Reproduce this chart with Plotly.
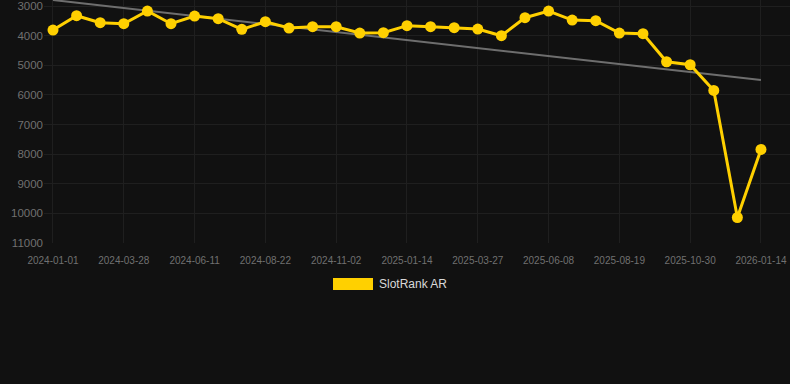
import plotly.graph_objects as go

dates = [
    "2024-01-01", "2024-01-30", "2024-02-28", "2024-03-28", "2024-04-22", "2024-05-17",
    "2024-06-11", "2024-07-05", "2024-07-29", "2024-08-22", "2024-09-15", "2024-10-09",
    "2024-11-02", "2024-11-26", "2024-12-20", "2025-01-14", "2025-02-07", "2025-03-03",
    "2025-03-27", "2025-04-20", "2025-05-15", "2025-06-08", "2025-07-02", "2025-07-26",
    "2025-08-19", "2025-09-12", "2025-10-06", "2025-10-30", "2025-11-24", "2025-12-19",
    "2026-01-14",
]
rank = [
    3811, 3327, 3563, 3597, 3169, 3597, 3338, 3428, 3787, 3530, 3743, 3698,
    3698, 3912, 3900, 3664, 3698, 3732, 3777, 4003, 3394, 3169, 3473, 3495,
    3912, 3935, 4882, 4983, 5848, 10139, 7841,
]
trend_dates = [dates[0], dates[-1]]
trend_values = [2797, 5500]
tick_dates = dates[::3]
y_ticks = [3000, 4000, 5000, 6000, 7000, 8000, 9000, 10000, 11000]
series_name = "SlotRank AR"

BG = "#111111"
YELLOW = "#FFD000"
GRID = "#1f1f1f"
TICK = "#707070"

fig = go.Figure()
fig.add_trace(go.Scatter(
    x=trend_dates, y=trend_values, mode="lines",
    line=dict(color="#6e6e6e", width=2), hoverinfo="skip", showlegend=False,
))
fig.add_trace(go.Scatter(
    x=dates, y=rank, mode="lines+markers", name=series_name,
    line=dict(color=YELLOW, width=3),
    marker=dict(color=YELLOW, size=11),
    showlegend=False,
))

fig.update_layout(
    width=790, height=384,
    margin=dict(l=44, r=0, t=0, b=141),
    paper_bgcolor=BG, plot_bgcolor=BG,
    font=dict(family="Liberation Sans, Arial, sans-serif", color=TICK),
    xaxis=dict(
        type="category", categoryorder="array", categoryarray=dates,
        range=[-0.381, 31.23],
        tickmode="array", tickvals=tick_dates, ticktext=tick_dates,
        showgrid=True, gridcolor=GRID, gridwidth=1,
        zeroline=False, showline=False,
        tickfont=dict(size=10, color=TICK),
        ticklabelstandoff=10,
    ),
    yaxis=dict(
        range=[11000, 2797],
        tickmode="array", tickvals=y_ticks, ticktext=[str(v) for v in y_ticks],
        showgrid=True, gridcolor=GRID, gridwidth=1,
        zeroline=False, showline=False,
        tickfont=dict(size=11.5, color=TICK),
    ),
    shapes=[dict(
        type="rect", xref="paper", yref="paper",
        x0=(333 - 44) / 746, x1=(373 - 44) / 746,
        y0=(384 - 141 - 290) / 243, y1=(384 - 141 - 278) / 243,
        fillcolor=YELLOW, line=dict(width=0),
    )],
    annotations=[dict(
        text=series_name, xref="paper", yref="paper",
        x=(377 - 44) / 746, y=(384 - 141 - 284) / 243,
        xanchor="left", yanchor="middle", showarrow=False,
        font=dict(size=12, color="#d9d9d9"),
    )],
)

fig.write_html("out.html")
